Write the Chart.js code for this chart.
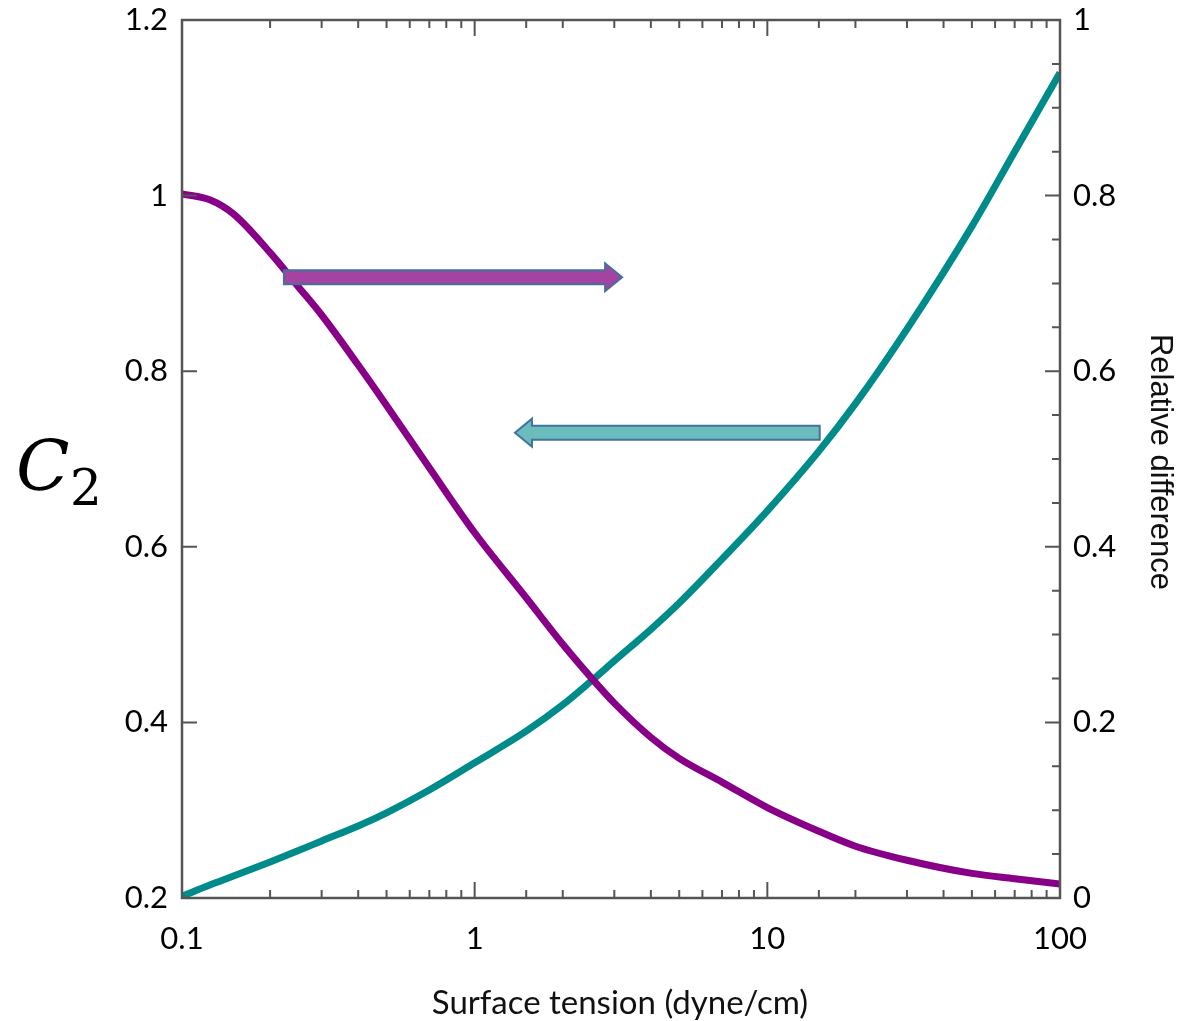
<!DOCTYPE html>
<html>
<head>
<meta charset="utf-8">
<script src="https://cdn.jsdelivr.net/npm/chart.js@4.4.1/dist/chart.umd.min.js"></script>
<style>
  html, body { margin: 0; padding: 0; background: #fff; }
  #wrap { width: 1183px; height: 1021px; }
</style>
</head>
<body>
<div id="wrap"><canvas id="myChart" width="1183" height="1021"></canvas></div>
<script>
// surface tension (dyne/cm), shared by both curves
var tension = [0.1, 0.125, 0.15, 0.2, 0.25, 0.3, 0.4, 0.5, 0.7, 1, 1.5, 2, 2.5, 3, 4, 5, 7, 10, 15, 20, 30, 50, 70, 100];
// relative difference (right axis)
var relDiff = [0.802, 0.795, 0.779, 0.735, 0.696, 0.664, 0.607, 0.561, 0.490, 0.416, 0.342, 0.289, 0.251, 0.222, 0.183, 0.159, 0.132, 0.103, 0.076, 0.059, 0.043, 0.028, 0.022, 0.016];
// C2 (left axis)
var c2 = [0.202, 0.215, 0.225, 0.241, 0.254, 0.265, 0.282, 0.297, 0.323, 0.354, 0.390, 0.420, 0.447, 0.470, 0.506, 0.536, 0.586, 0.641, 0.709, 0.763, 0.848, 0.965, 1.050, 1.140];

var xLabels = [0.1, 1, 10, 100];
var leftTicks = [0.2, 0.4, 0.6, 0.8, 1, 1.2];
var rightTicks = [0, 0.2, 0.4, 0.6, 0.8, 1];

// arrows pointing to the axis of each curve: [tail x, head x, y on left axis]
var arrowPurple = [0.223, 3.19, 0.907];
var arrowTeal = [15.1, 1.373, 0.730];

function pts(xs, ys) {
  var out = [];
  for (var i = 0; i < xs.length; i++) out.push({ x: xs[i], y: ys[i] });
  return out;
}

var tickFont = { family: 'Lato', size: 31 };

var framePlugin = {
  id: 'frame',
  afterDatasetsDraw: function (chart) {
    var ctx = chart.ctx;
    var a = chart.chartArea;
    var xs = chart.scales.x, yl = chart.scales.y, yr = chart.scales.y2;
    ctx.save();
    ctx.strokeStyle = '#555';
    ctx.lineWidth = 2.5;
    ctx.strokeRect(a.left, a.top, a.right - a.left, a.bottom - a.top);

    ctx.lineWidth = 2;
    ctx.beginPath();
    // log ticks top and bottom
    xs.ticks.forEach(function (t) {
      var px = xs.getPixelForValue(t.value);
      var lg = Math.log10(t.value);
      var len = Math.abs(lg - Math.round(lg)) < 1e-6 ? 16 : 8;
      ctx.moveTo(px, a.bottom); ctx.lineTo(px, a.bottom - len);
      ctx.moveTo(px, a.top); ctx.lineTo(px, a.top + len);
    });
    // left axis majors
    leftTicks.forEach(function (v) {
      var py = yl.getPixelForValue(v);
      ctx.moveTo(a.left, py); ctx.lineTo(a.left + 15, py);
    });
    // right axis majors and minors
    for (var k = 0; k <= 20; k++) {
      var py = yr.getPixelForValue(k * 0.05);
      var len = (k % 4 === 0) ? 15 : 8;
      ctx.moveTo(a.right, py); ctx.lineTo(a.right - len, py);
    }
    ctx.stroke();

    // arrows
    function arrow(def, fill) {
      var x0 = xs.getPixelForValue(def[0]);
      var x1 = xs.getPixelForValue(def[1]);
      var y = yl.getPixelForValue(def[2]);
      var dir = x1 > x0 ? 1 : -1;
      var hb = 7, hh = 14, hl = 17;
      var xb = x1 - dir * hl;
      ctx.beginPath();
      ctx.moveTo(x0, y - hb);
      ctx.lineTo(xb, y - hb);
      ctx.lineTo(xb, y - hh);
      ctx.lineTo(x1, y);
      ctx.lineTo(xb, y + hh);
      ctx.lineTo(xb, y + hb);
      ctx.lineTo(x0, y + hb);
      ctx.closePath();
      ctx.fillStyle = fill;
      ctx.fill();
      ctx.strokeStyle = '#41719c';
      ctx.lineWidth = 2;
      ctx.stroke();
    }
    arrow(arrowPurple, '#a443a2');
    arrow(arrowTeal, '#6bbcbc');

    // axis titles
    ctx.fillStyle = '#111';
    ctx.textAlign = 'center';
    ctx.textBaseline = 'middle';
    ctx.font = '33px Lato';
    ctx.fillText('Surface tension (dyne/cm)', 620, 1003);

    ctx.save();
    ctx.translate(1160, 462);
    ctx.rotate(Math.PI / 2);
    ctx.font = '31px "Liberation Sans"';
    ctx.fillText('Relative difference', 0, 0);
    ctx.restore();

    ctx.fillStyle = '#000';
    ctx.textAlign = 'left';
    ctx.textBaseline = 'alphabetic';
    ctx.font = 'italic 70px "DejaVu Serif"';
    ctx.fillText('C', 16, 490);
    ctx.font = '50px "DejaVu Serif"';
    ctx.fillText('2', 70, 505);
    ctx.restore();
  }
};

function noPad(s) {
  s.paddingTop = 0; s.paddingBottom = 0; s.paddingLeft = 0; s.paddingRight = 0;
}

var ctx = document.getElementById('myChart').getContext('2d');
var chart = new Chart(ctx, {
  type: 'line',
  data: {
    datasets: [{
      label: 'Relative difference',
      data: pts(tension, relDiff),
      yAxisID: 'y2',
      borderColor: '#880088',
      borderWidth: 7,
      pointRadius: 0,
      cubicInterpolationMode: 'monotone',
      fill: false
    }, {
      label: 'C2',
      data: pts(tension, c2),
      yAxisID: 'y',
      borderColor: '#008b8b',
      borderWidth: 7,
      pointRadius: 0,
      cubicInterpolationMode: 'monotone',
      fill: false
    }]
  },
  options: {
    responsive: false,
    animation: false,
    layout: { padding: { top: 20, left: 0, right: 0, bottom: 0 } },
    plugins: { legend: { display: false }, tooltip: { enabled: false } },
    scales: {
      x: {
        type: 'logarithmic',
        position: 'bottom',
        min: 0.1,
        max: 100,
        grid: { display: false, drawTicks: false },
        border: { display: false },
        afterFit: function (s) { s.height = 123; noPad(s); },
        ticks: {
          autoSkip: false,
          maxRotation: 0,
          padding: 22,
          color: '#000',
          font: tickFont,
          callback: function (v) {
            return xLabels.indexOf(+v.toPrecision(6)) >= 0 ? String(+v.toPrecision(6)) : '';
          }
        }
      },
      y: {
        position: 'left',
        min: 0.2,
        max: 1.2,
        grid: { display: false, drawTicks: false },
        border: { display: false },
        afterFit: function (s) { s.width = 182; noPad(s); },
        afterBuildTicks: function (s) { s.ticks = leftTicks.map(function (v) { return { value: v }; }); },
        ticks: { padding: 14, color: '#000', font: tickFont, callback: function (v) { return String(+v.toFixed(1)); } }
      },
      y2: {
        position: 'right',
        min: 0,
        max: 1,
        grid: { display: false, drawTicks: false },
        border: { display: false },
        afterFit: function (s) { s.width = 123; noPad(s); },
        afterBuildTicks: function (s) { s.ticks = rightTicks.map(function (v) { return { value: v }; }); },
        ticks: { padding: 13, color: '#000', font: tickFont, callback: function (v) { return String(+v.toFixed(1)); } }
      }
    }
  },
  plugins: [framePlugin]
});
</script>
</body>
</html>
